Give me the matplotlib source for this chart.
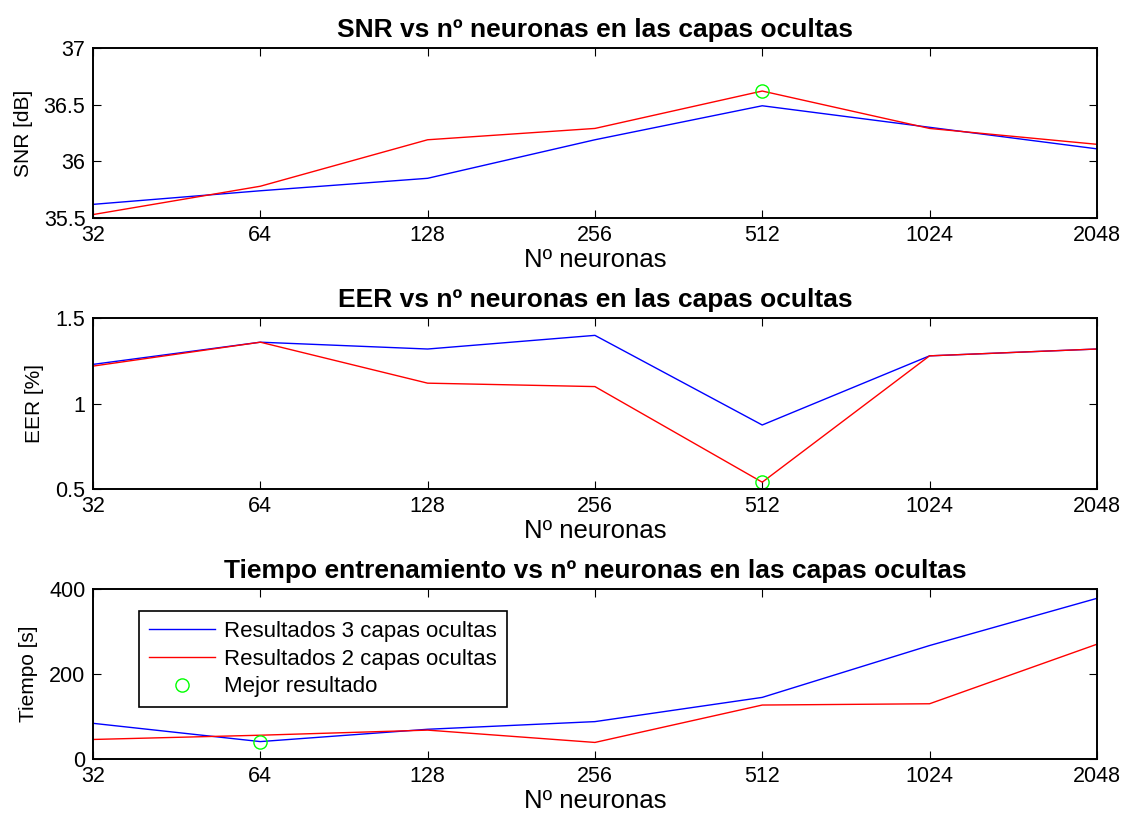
import matplotlib
matplotlib.use('Agg')
from matplotlib import pyplot as plt
from matplotlib.ticker import FixedLocator, NullLocator

plt.rcParams['font.family'] = ['Liberation Sans', 'DejaVu Sans']

# neurons per hidden layer
neuronas = [32, 64, 128, 256, 512, 1024, 2048]
tick_labels = ['32', '64', '128', '256', '512', '1024', '2048']

# SNR [dB]
snr_3capas = [35.62, 35.74, 35.85, 36.19, 36.49, 36.30, 36.11]
snr_2capas = [35.53, 35.78, 36.19, 36.29, 36.62, 36.29, 36.15]

# EER [%]
eer_3capas = [1.23, 1.36, 1.32, 1.40, 0.875, 1.28, 1.32]
eer_2capas = [1.22, 1.36, 1.12, 1.10, 0.54, 1.28, 1.32]

# training time [s]
t_3capas = [84, 41, 70, 88, 145, 267, 378]
t_2capas = [46, 56, 68, 39, 127, 130, 270]

# best result for each metric (x, y)
mejor_snr = (512, 36.62)
mejor_eer = (512, 0.54)
mejor_t = (64, 41)

fig = plt.figure(figsize=(11.26, 8.13), dpi=100)

boxes = [
    [0.0826, 0.7319, 0.8915, 0.2091],
    [0.0826, 0.3985, 0.8915, 0.2100],
    [0.0826, 0.0664, 0.8915, 0.2091],
]

def setup(ax, ylim, yticks, ylabel, title):
    ax.set_xscale('log', base=2)
    ax.set_xlim(32, 2048)
    ax.set_ylim(*ylim)
    ax.xaxis.set_major_locator(FixedLocator(neuronas))
    ax.xaxis.set_minor_locator(NullLocator())
    ax.set_xticklabels(tick_labels)
    ax.set_yticks(yticks)
    ax.set_yticklabels([f'{v:g}' for v in yticks])
    ax.tick_params(direction='in', top=True, right=True, length=6,
                   width=0.8, labelsize=15.5)
    ax.tick_params(axis='x', pad=5)
    ax.tick_params(axis='y', pad=5.5)
    for s in ax.spines.values():
        s.set_linewidth(1.4)
    ax.set_xlabel('Nº neuronas', fontsize=18.5, labelpad=1.5)
    ax.set_ylabel(ylabel, fontsize=15, labelpad=8)
    ax.set_title(title, fontsize=19, fontweight='bold', pad=8)

ax1 = fig.add_axes(boxes[0])
ax1.plot(neuronas, snr_3capas, color='blue', lw=1)
ax1.plot(neuronas, snr_2capas, color='red', lw=1)
ax1.plot(*mejor_snr, 'o', mfc='none', mec='lime', ms=9.5, mew=1)
setup(ax1, (35.5, 37), [35.5, 36, 36.5, 37], 'SNR [dB]',
      'SNR vs nº neuronas en las capas ocultas')

ax2 = fig.add_axes(boxes[1])
ax2.plot(neuronas, eer_3capas, color='blue', lw=1)
ax2.plot(neuronas, eer_2capas, color='red', lw=1)
ax2.plot(*mejor_eer, 'o', mfc='none', mec='lime', ms=9.5, mew=1)
setup(ax2, (0.5, 1.5), [0.5, 1, 1.5], 'EER [%]',
      'EER vs nº neuronas en las capas ocultas')

ax3 = fig.add_axes(boxes[2])
ax3.plot(neuronas, t_3capas, color='blue', lw=1, label='Resultados 3 capas ocultas')
ax3.plot(neuronas, t_2capas, color='red', lw=1, label='Resultados 2 capas ocultas')
ax3.plot(*mejor_t, 'o', mfc='none', mec='lime', ms=9.5, mew=1,
         label='Mejor resultado')
setup(ax3, (0, 400), [0, 200, 400], 'Tiempo [s]',
      'Tiempo entrenamiento vs nº neuronas en las capas ocultas')

leg = ax3.legend(loc='upper left', bbox_to_anchor=(0.0454, 0.8706),
                 fontsize=16, fancybox=False, framealpha=1,
                 edgecolor='black', borderaxespad=0, handlelength=3.0,
                 handletextpad=0.4, labelspacing=0.3, borderpad=0.45)
leg.get_frame().set_linewidth(1.2)

fig.savefig('out.png', dpi=100)
